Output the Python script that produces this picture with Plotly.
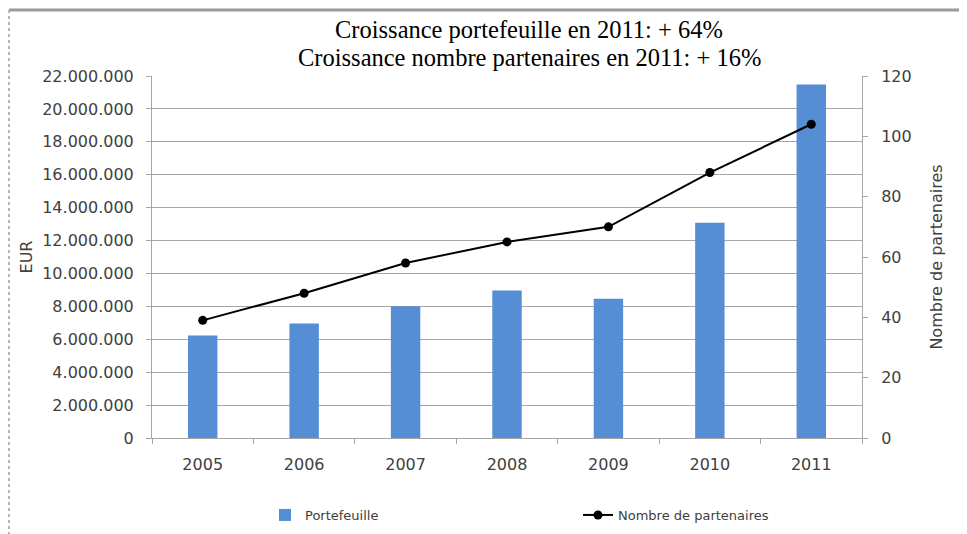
import plotly.graph_objects as go

years = ["2005", "2006", "2007", "2008", "2009", "2010", "2011"]
portefeuille = [6230000, 6960000, 8010000, 8970000, 8460000, 13080000, 21480000]
partenaires = [39, 48, 58, 65, 70, 88, 104]

left_tickvals = [0, 2000000, 4000000, 6000000, 8000000, 10000000, 12000000,
                 14000000, 16000000, 18000000, 20000000, 22000000]
left_ticktext = ["0", "2.000.000", "4.000.000", "6.000.000", "8.000.000", "10.000.000",
                 "12.000.000", "14.000.000", "16.000.000", "18.000.000", "20.000.000",
                 "22.000.000"]
right_tickvals = [0, 20, 40, 60, 80, 100, 120]

title_lines = ["Croissance portefeuille en 2011: + 64%",
               "Croissance nombre partenaires en 2011: + 16%"]

# page body margin shifts the figure by 8px; lay out in figure pixels
OFF = 8
W, H = 967, 534
L, R, T, B = 152 - OFF, 967 - (862 - OFF), 76 - OFF, 534 - (438 - OFF)
pw, ph = W - L - R, H - T - B

def px_x(p):  # screen pixel -> paper x
    return (p - OFF - L) / pw

def px_y(p):  # screen pixel -> paper y
    return (H - B - (p - OFF)) / ph

tick_font = dict(family="DejaVu Sans, sans-serif", size=16, color="#404040")
grid_col = "#a6a6a6"

fig = go.Figure()
fig.add_trace(go.Bar(
    x=years, y=portefeuille, name="Portefeuille",
    marker=dict(color="#558ED5", line=dict(width=0)),
    yaxis="y", legend="legend",
))
fig.add_trace(go.Scatter(
    x=years, y=partenaires, name="Nombre de partenaires",
    mode="lines+markers",
    line=dict(color="black", width=2),
    marker=dict(color="black", size=9, symbol="circle"),
    yaxis="y2", legend="legend2",
))

legend_font = dict(family="DejaVu Sans, sans-serif", size=13, color="#404040")
title_font = dict(family="Liberation Serif, Times New Roman, serif", size=24.5, color="black")

fig.update_layout(
    width=W, height=H,
    margin=dict(l=L, r=R, t=T, b=B, autoexpand=False),
    paper_bgcolor="white", plot_bgcolor="white",
    bargap=0.71,
    showlegend=True,
    legend=dict(
        orientation="h", x=px_x(265), y=px_y(515), xanchor="left", yanchor="middle",
        font=legend_font, bgcolor="rgba(0,0,0,0)",
    ),
    legend2=dict(
        orientation="h", x=px_x(578), y=px_y(515), xanchor="left", yanchor="middle",
        font=legend_font, bgcolor="rgba(0,0,0,0)",
    ),
    xaxis=dict(
        type="category", tickson="boundaries",
        showline=True, linecolor=grid_col, linewidth=1,
        ticks="outside", ticklen=5, tickcolor=grid_col,
        tickfont=tick_font, showgrid=False, ticklabelstandoff=12,
    ),
    yaxis=dict(
        range=[0, 22000000], tickvals=left_tickvals, ticktext=left_ticktext,
        showline=True, linecolor=grid_col, linewidth=1,
        ticks="outside", ticklen=5, tickcolor=grid_col,
        showgrid=True, gridcolor=grid_col, gridwidth=1,
        zeroline=False, tickfont=tick_font, ticklabelstandoff=9,
        title=dict(text="EUR", font=tick_font, standoff=5),
    ),
    yaxis2=dict(
        range=[0, 120], tickvals=right_tickvals, overlaying="y", side="right",
        showline=True, linecolor=grid_col, linewidth=1,
        ticks="outside", ticklen=5, tickcolor=grid_col,
        showgrid=False, zeroline=False, tickfont=tick_font, ticklabelstandoff=10,
        title=dict(text="Nombre de partenaires", font=tick_font, standoff=20),
    ),
    annotations=[
        dict(text=title_lines[0], xref="paper", yref="paper", x=px_x(529), y=px_y(29),
             showarrow=False, xanchor="center", yanchor="middle", font=title_font),
        dict(text=title_lines[1], xref="paper", yref="paper", x=px_x(529), y=px_y(57),
             showarrow=False, xanchor="center", yanchor="middle", font=title_font),
    ],
    shapes=[
        dict(type="line", xref="paper", yref="paper", x0=px_x(9), x1=px_x(967),
             y0=px_y(10), y1=px_y(10), line=dict(color="#9a9a9a", width=3)),
        dict(type="line", xref="paper", yref="paper", x0=px_x(9), x1=px_x(9),
             y0=px_y(10), y1=px_y(534), line=dict(color="#b5b5b5", width=2, dash="dot")),
    ],
)

fig.write_html("out.html")
